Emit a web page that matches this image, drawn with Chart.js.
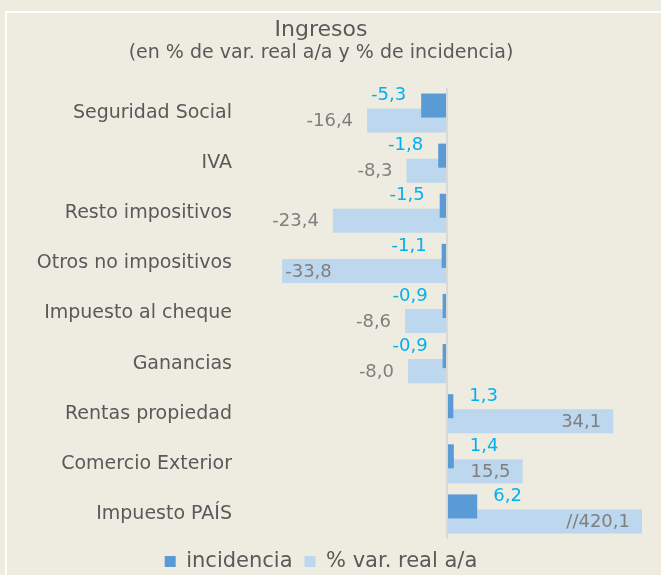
<!DOCTYPE html>
<html>
<head>
<meta charset="utf-8">
<script src="https://cdn.jsdelivr.net/npm/chart.js@4"></script>
<style>
  html, body { margin: 0; padding: 0; background: #eeebe0; }
  .wrap { position: relative; width: 661px; height: 575px; overflow: hidden; }
  .frame { position: absolute; left: 5px; top: 11px; width: 700px; height: 600px;
           border-left: 2px solid #ffffff; border-top: 2px solid #ffffff; }
  canvas { position: absolute; left: 0; top: 0; }
</style>
</head>
<body>
<div class="wrap">
  <div class="frame"></div>
  <canvas id="chart" width="661" height="575"></canvas>
</div>
<script>
const categories = [
  'Seguridad Social', 'IVA', 'Resto impositivos', 'Otros no impositivos',
  'Impuesto al cheque', 'Ganancias', 'Rentas propiedad', 'Comercio Exterior', 'Impuesto PAÍS'
]
const incidencia = [-5.3, -1.8, -1.5, -1.1, -0.9, -0.9, 1.3, 1.4, 6.2]
const varReal = [-16.4, -8.3, -23.4, -33.8, -8.6, -8.0, 34.1, 15.5, 420.1]
// axis is cut at 40, bigger values get a "//" mark
const axisMin = -40
const axisMax = 40

const FONT = 'DejaVu Sans'
const fmt = (v) => v.toFixed(1).replace('.', ',')

const barLabels = {
  id: 'barLabels',
  afterDatasetsDraw(chart) {
    const { ctx, chartArea } = chart
    ctx.save()
    ctx.font = `18px "${FONT}"`
    ctx.textBaseline = 'middle'

    // incidencia: outside the bar end, at the top edge
    chart.getDatasetMeta(0).data.forEach((bar, i) => {
      const v = incidencia[i]
      ctx.fillStyle = '#00b0f0'
      ctx.textAlign = v < 0 ? 'right' : 'left'
      const x = v < 0 ? bar.x - 15 : bar.x + 16
      ctx.fillText(fmt(v), x, bar.y - bar.height / 2 + 2)
    })

    // % var. real
    chart.getDatasetMeta(1).data.forEach((bar, i) => {
      const v = varReal[i]
      let text = fmt(v)
      if (v > axisMax) text = '//' + text
      const w = ctx.measureText(text).width
      ctx.fillStyle = '#7f7f7f'
      const y = bar.y + 1
      if (v < 0) {
        if (bar.x - 14 - w >= chartArea.left) {
          ctx.textAlign = 'right'
          ctx.fillText(text, bar.x - 14, y)
        } else {
          ctx.textAlign = 'left'
          ctx.fillText(text, bar.x + 3, y)
        }
      } else {
        ctx.textAlign = 'right'
        ctx.fillText(text, Math.min(bar.x, chartArea.right) - 12, y)
      }
    })
    ctx.restore()
  }
}

new Chart(document.getElementById('chart'), {
  type: 'bar',
  data: {
    labels: categories,
    datasets: [
      {
        label: 'incidencia',
        data: incidencia,
        backgroundColor: '#5b9bd5',
        categoryPercentage: 0.6,
        barPercentage: 1.6
      },
      {
        label: '% var. real a/a',
        data: varReal,
        backgroundColor: '#bdd7ee',
        categoryPercentage: 0.6,
        barPercentage: 1.6
      }
    ]
  },
  options: {
    indexAxis: 'y',
    responsive: false,
    animation: false,
    layout: { padding: { top: 0, right: 19, bottom: -7, left: 0 } },
    plugins: {
      title: {
        display: true,
        text: 'Ingresos',
        color: '#595959',
        font: { family: FONT, size: 22, weight: 'normal', lineHeight: 1 },
        padding: { top: 19, bottom: 0 }
      },
      subtitle: {
        display: true,
        text: '(en % de var. real a/a y % de incidencia)',
        color: '#595959',
        font: { family: FONT, size: 19, weight: 'normal', lineHeight: 1 },
        padding: { top: 3, bottom: 25 }
      },
      legend: {
        position: 'bottom',
        labels: {
          color: '#595959',
          font: { family: FONT, size: 21 },
          boxWidth: 11,
          boxHeight: 11,
          padding: 12
        }
      },
      tooltip: { enabled: false }
    },
    scales: {
      x: {
        min: axisMin,
        max: axisMax,
        ticks: { display: false, stepSize: 40 },
        grid: {
          drawTicks: false,
          lineWidth: 2,
          color: (c) => (c.tick && c.tick.value === 0 ? '#d9d9d9' : 'rgba(0,0,0,0)')
        },
        border: { display: false }
      },
      y: {
        grid: { display: false, drawTicks: false },
        border: { display: false },
        ticks: {
          color: '#595959',
          font: { family: FONT, size: 19 },
          padding: 20
        },
        afterFit: (scale) => { scale.width = 252 }
      }
    }
  },
  plugins: [barLabels]
})
</script>
</body>
</html>
